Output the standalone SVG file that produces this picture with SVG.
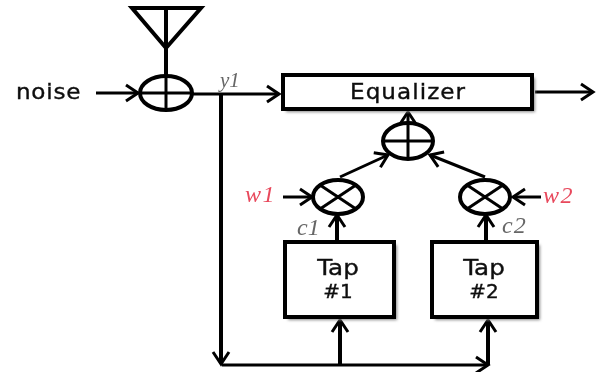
<svg xmlns="http://www.w3.org/2000/svg" width="599" height="372" viewBox="0 0 599 372">
<style>
.l{fill:none;stroke:#000;stroke-width:3}
.t{stroke-width:4}
.n{fill:#fff;stroke:#000;stroke-width:4}
.b{fill:#fff;stroke:#000;stroke-width:4}
.s{fill:#888;filter:url(#bl)}
.lab{font-family:"DejaVu Sans",sans-serif;font-size:22px;fill:#111;stroke:#111;stroke-width:.4}
.mid{text-anchor:middle}
.sig{font-family:"Liberation Serif",serif;font-style:italic;fill:#666}
.red{fill:#e8485c}
</style>
<defs>
<filter id="bl"><feGaussianBlur stdDeviation="1.5"/></filter>
<filter id="soft"><feGaussianBlur stdDeviation="0.45"/></filter>
<marker id="a" markerUnits="userSpaceOnUse" markerWidth="18" markerHeight="20" refX="15" refY="10" orient="auto"><path d="M3 2 L15 10 L3 18" fill="none" stroke="#000" stroke-width="3"/></marker>
</defs>
<rect width="599" height="372" fill="#fff"/>
<g filter="url(#soft)">
<g id="connectors">
<path class="l" d="M96 93H138" marker-end="url(#a)"/>
<path class="l" d="M192 94H279" marker-end="url(#a)"/>
<path class="l t" d="M221 94V364" marker-end="url(#a)"/>
<path class="l" d="M535 92H593" marker-end="url(#a)"/>
<path class="l" d="M408 123V112" marker-end="url(#a)"/>
<path class="l" d="M340 177L388 155" marker-end="url(#a)"/>
<path class="l" d="M485 177L430 155" marker-end="url(#a)"/>
<path class="l" d="M283 197H312" marker-end="url(#a)"/>
<path class="l" d="M541 197H513" marker-end="url(#a)"/>
<path class="l t" d="M337 242V215" marker-end="url(#a)"/>
<path class="l t" d="M486 242V215" marker-end="url(#a)"/>
<path class="l" d="M222 365H488" marker-end="url(#a)"/>
<path class="l t" d="M340 365V320" marker-end="url(#a)"/>
<path class="l t" d="M488 365V320" marker-end="url(#a)"/>
</g>
<g id="antenna"><path class="l t" d="M132 8H201L166 48ZM166 8V93"/></g>
<g id="sum1"><ellipse class="n" cx="166" cy="93" rx="26" ry="17"/><path class="l" d="M140 93H192M166 76V110"/></g>
<g id="label-noise"><text class="lab" transform="translate(16 99) scale(1.05 1)" letter-spacing=".7">noise</text></g>
<g id="label-y1"><text class="sig" x="220" y="87" font-size="21">y1</text></g>
<g id="equalizer"><rect class="s" x="286" y="78" width="249" height="34"/><rect class="b" x="283" y="75" width="249" height="34"/><text class="lab" transform="translate(350 99) scale(1.05 1)" letter-spacing="1">Equalizer</text></g>
<g id="sum2"><ellipse class="n" cx="408" cy="141" rx="25" ry="18"/><path class="l" d="M383 141H433M408 123V159"/></g>
<g id="mult1"><ellipse class="n" cx="338" cy="197" rx="25" ry="17"/><path class="l" d="M320 185L356 209M356 185L320 209"/></g>
<g id="mult2"><ellipse class="n" cx="485" cy="197" rx="25" ry="17"/><path class="l" d="M467 185L503 209M503 185L467 209"/></g>
<g id="label-w1"><text class="sig red" x="245" y="202" font-size="24" letter-spacing="1.5">w1</text></g>
<g id="label-w2"><text class="sig red" x="543" y="203" font-size="24" letter-spacing="1.5">w2</text></g>
<g id="label-c1"><text class="sig" x="297" y="235" font-size="24">c1</text></g>
<g id="label-c2"><text class="sig" x="502" y="233" font-size="24" letter-spacing="1">c2</text></g>
<g id="tap1"><rect class="s" x="288" y="245" width="109" height="75"/><rect class="b" x="285" y="242" width="109" height="75"/><text class="lab mid" transform="translate(338 275) scale(1.12 1)">Tap</text><text class="lab mid" x="338" y="298" style="font-size:20px">#1</text></g>
<g id="tap2"><rect class="s" x="435" y="245" width="105" height="75"/><rect class="b" x="432" y="242" width="105" height="75"/><text class="lab mid" transform="translate(484 275) scale(1.12 1)">Tap</text><text class="lab mid" x="484" y="298" style="font-size:20px">#2</text></g>
</g>
</svg>
